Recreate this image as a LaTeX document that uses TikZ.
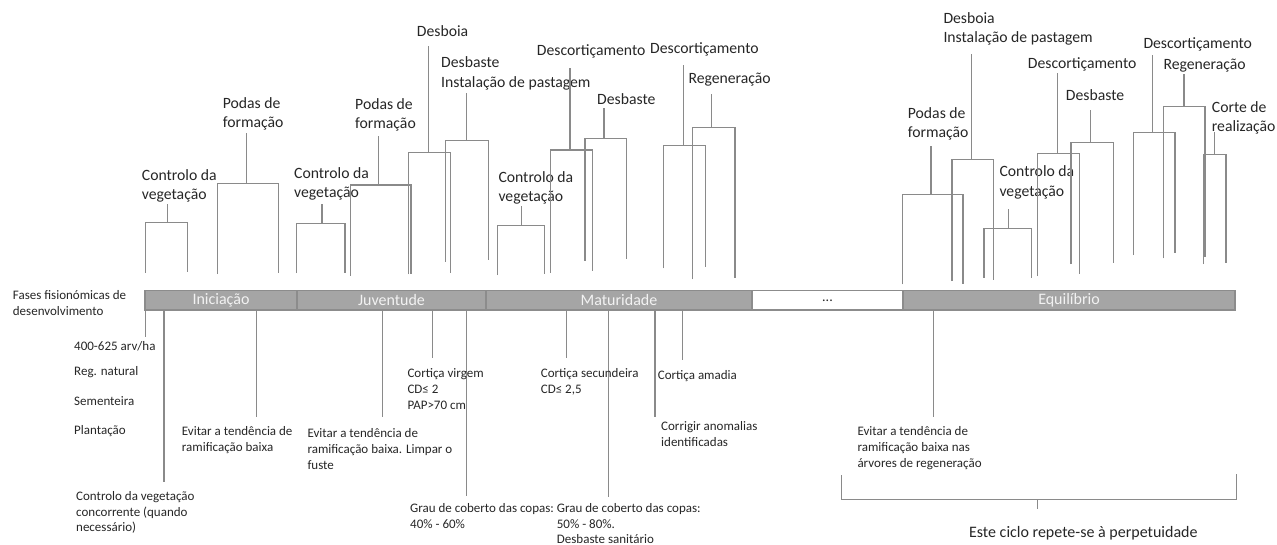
\documentclass[tikz,border=0pt]{standalone}
\usepackage{fontspec}
\setmainfont{Carlito}
\definecolor{lncol}{HTML}{8A8A8A}
\definecolor{lndk}{HTML}{404040}
\definecolor{txt}{HTML}{262626}
\definecolor{barfill}{HTML}{A5A5A5}
\definecolor{barline}{HTML}{8C8C8C}
\definecolor{bartxt}{HTML}{F2F2F2}
\newcommand\Brk[8]{%
  \coordinate (#8-l) at (#1,#2);
  \coordinate (#8-r) at (#3,#4);
  \coordinate (#8-m) at (#6,#5);
  \coordinate (#8-s) at (#6,#7);
  \draw[lnk] (#8-l) |- (#8-r |- #8-m) -- (#8-r);
  \draw[lnk] (#8-m) -- (#8-s);
}
\begin{document}
\begin{tikzpicture}[x=1pt,y=-1pt,
  lnk/.style={draw=lncol, line width=1.1pt},
  toplbl/.style={anchor=north west, inner sep=0pt, align=left, text=txt, font=\fontsize{15.7}{19.3}\selectfont},
  botlbl/.style={anchor=north west, inner sep=0pt, align=left, text=txt, font=\fontsize{13}{15.8}\selectfont},
  barseg/.style={draw=barline, fill=barfill, line width=1.3pt, text=bartxt, inner sep=0pt, minimum height=19.3pt, font=\fontsize{16}{19}\selectfont},
  whiteseg/.style={draw=barline, fill=white, line width=1.3pt, text=txt, inner sep=0pt, minimum height=19.3pt, font=\fontsize{14}{17}\selectfont}
]
\useasboundingbox (0,0) rectangle (1277,544);

% ---- phase bar ----
\node[barseg, minimum width=152pt] (ini) at (221,300.3) {Iniciação};
\node[barseg, minimum width=189pt] (juv) at (391.5,300.3) {Juventude};
\node[barseg, minimum width=266pt] (mat) at (619,300.3) {Maturidade};
\node[whiteseg, minimum width=151pt] (dots) at (827.5,300.3) {...};
\node[barseg, minimum width=332pt] (equ) at (1069,300.3) {Equilíbrio};

\node[botlbl] (fases) at (12.7,290) {Fases fisionómicas de\\desenvolvimento};

% ---- top brackets ----
\Brk{145.5}{272.7}{187.3}{272}{222.7}{167.7}{204}{b1}
\node[toplbl] (t1) at (141.7,169) {Controlo da\\vegetação};
\Brk{217.7}{274}{278.3}{273}{183.3}{246.7}{133.3}{b2}
\node[toplbl] (t2) at (222.7,97) {Podas de\\formação};
\Brk{296.7}{273}{345}{272.7}{223.3}{322}{204}{b3}
\node[toplbl] (t3) at (294,167) {Controlo da\\vegetação};
\Brk{350.5}{275.7}{411}{274.3}{185}{378.3}{135.7}{b4}
\node[toplbl] (t4) at (355,98) {Podas de\\formação};
\Brk{408.3}{274.3}{450.5}{273.3}{152.7}{428.3}{45.7}{b5}
\node[toplbl] (t5) at (416.7,25.7) {Desboia};
\Brk{445.7}{261.7}{488.3}{260}{140.3}{466.7}{93.3}{b6}
\node[toplbl] (t6) at (441,56.7) {Desbaste\\Instalação de pastagem};
\Brk{497.5}{275}{544.5}{274.3}{225.3}{521.7}{206}{b7}
\node[toplbl] (t7) at (498.3,171) {Controlo da\\vegetação};
\Brk{550.2}{272.7}{592.7}{270.7}{150}{570}{68.3}{b8}
\node[toplbl] (t8) at (536.7,44) {Descortiçamento};
\Brk{585}{260.7}{626.3}{259.3}{138.3}{604}{108.3}{b9}
\node[toplbl] (t9) at (597,93) {Desbaste};
\Brk{663.5}{268.3}{705.2}{266.7}{145.7}{683.3}{65}{b10}
\node[toplbl] (t10) at (650,42.3) {Descortiçamento};
\Brk{692.3}{279.3}{735}{277.7}{127.7}{711.7}{94}{b11}
\node[toplbl] (t11) at (688.3,73) {Regeneração};
\Brk{902.5}{284.3}{963}{284}{194.3}{931}{145.7}{b12}
\node[toplbl] (t12) at (907.7,107) {Podas de\\formação};
\Brk{952}{281}{993.3}{280}{159.3}{971.7}{54.3}{b13}
\node[toplbl] (t13) at (943.3,12.3) {Desboia\\Instalação de pastagem};
\Brk{984}{277.7}{1031.7}{277.7}{228.3}{1008.3}{209.3}{b14}
\node[toplbl] (t14) at (999.3,165.7) {Controlo da\\vegetação};
\Brk{1037.5}{276}{1079.3}{274.3}{153.3}{1057.7}{72.7}{b15}
\node[toplbl] (t15) at (1027.7,57.3) {Descortiçamento};
\Brk{1071}{264}{1113.3}{262.7}{142.7}{1090.7}{110}{b16}
\node[toplbl] (t16) at (1065.7,89.7) {Desbaste};
\Brk{1133.3}{255}{1175}{253.3}{132.7}{1152.7}{55}{b17}
\node[toplbl] (t17) at (1143.3,37.3) {Descortiçamento};
\Brk{1163.3}{258.3}{1205}{256.7}{106.7}{1184}{74}{b18}
\node[toplbl] (t18) at (1163.3,59) {Regeneração};
\Brk{1203.3}{264}{1226}{263.3}{154.3}{1214.3}{131.7}{b19}
\node[toplbl] (t19) at (1211.7,101.3) {Corte de\\realização};

% ---- bottom annotations ----
\draw[lnk] (145.7,310) -- (145.7,336.7);
\draw[lnk] (164,310) -- (164,481.7);
\draw[lnk] (256.7,310) -- (256.7,416.7);
\draw[lnk] (382.7,310) -- (382.7,416.7);
\draw[lnk] (432.7,310) -- (432.7,358.3);
\draw[lnk] (466.7,310) -- (466.7,496);
\draw[lnk] (566.7,310) -- (566.7,358.3);
\draw[lnk] (608.3,310) -- (608.3,496.7);
\draw[lnk] (655,310) -- (655,416.7);
\draw[lnk] (682.7,310) -- (682.7,360);
\draw[lnk] (933.3,310) -- (933.3,416.7);

\node[botlbl] (a1) at (74,341.5) {400-625 arv/ha};
\node[botlbl] (a2) at (74,366.7) {Reg. natural};
\node[botlbl] (a3) at (74,396.7) {Sementeira};
\node[botlbl] (a4) at (74,425) {Plantação};
\node[botlbl] (a5) at (181.7,426.7) {Evitar a tendência de\\ramificação baixa};
\node[botlbl] (a6) at (76,491) {Controlo da vegetação\\concorrente (quando\\necessário)};
\node[botlbl] (a7) at (307.3,428.3) {Evitar a tendência de\\ramificação baixa. Limpar o\\fuste};
\node[botlbl] (a8) at (407.3,368.3) {Cortiça virgem\\CD≤ 2\\PAP>70 cm};
\node[botlbl] (a9) at (410,503.3) {Grau de coberto das copas:\\40\% - 60\%};
\node[botlbl] (a10) at (540.7,368.3) {Cortiça secundeira\\CD≤ 2,5};
\node[botlbl] (a11) at (556.7,503) {Grau de coberto das copas:\\50\% - 80\%.\\Desbaste sanitário};
\node[botlbl] (a12) at (657.7,370) {Cortiça amadia};
\node[botlbl] (a13) at (661,421.7) {Corrigir anomalias\\identificadas};
\node[botlbl] (a14) at (857.3,426.7) {Evitar a tendência de\\ramificação baixa nas\\árvores de regeneração};

% ---- cycle bracket ----
\coordinate (cl) at (841.7,475);
\coordinate (cr) at (1236.7,474);
\coordinate (cm) at (1037.7,499.3);
\coordinate (ct) at (1037.7,509.3);
\draw[lnk] (cl) |- (cm) -| (cr);
\draw[lnk] (cm) -- (ct);
\node[anchor=north, inner sep=0pt, text=txt, font=\fontsize{16}{19}\selectfont] (cyc) at (1083.3,526.5) {Este ciclo repete-se à perpetuidade};
\end{tikzpicture}
\end{document}
